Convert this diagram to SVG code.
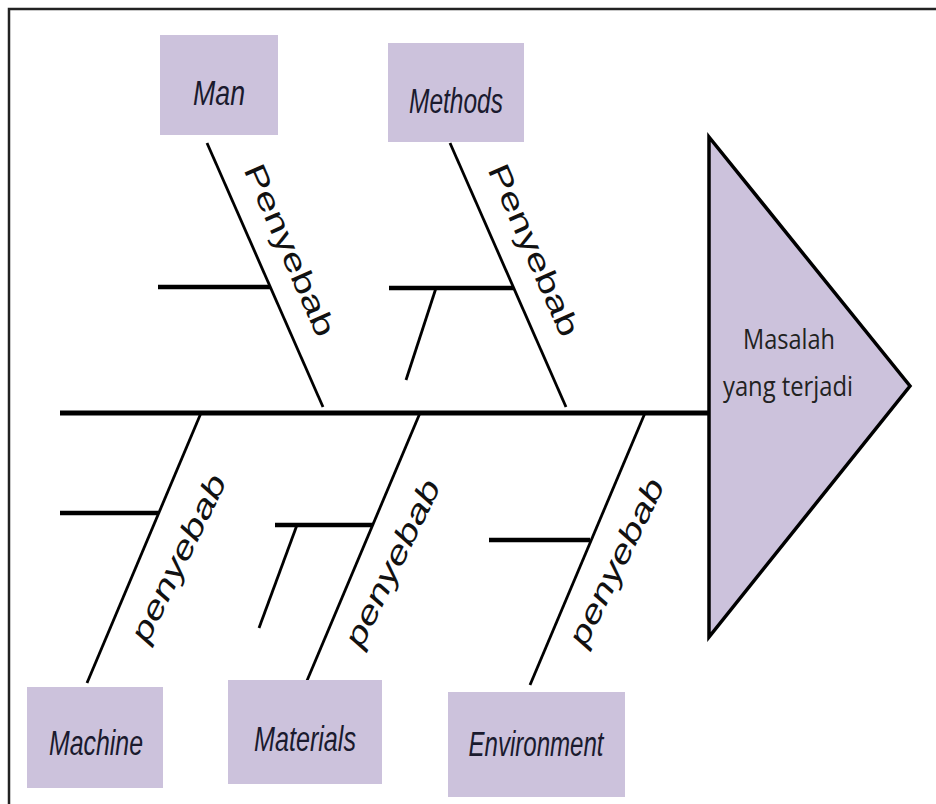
<svg xmlns="http://www.w3.org/2000/svg" width="936" height="804" viewBox="0 0 936 804">
<style>
.box{fill:#ccc2dc;}
.lbl{font-family:"Liberation Sans","Open Sans",sans-serif;font-style:italic;font-size:35px;fill:#1a1a2e;text-anchor:middle;}
.up{font-family:"Liberation Sans",Arial,sans-serif;font-size:30px;fill:#111;text-anchor:middle;dominant-baseline:central;}
.dn{font-family:"Liberation Sans",Arial,sans-serif;font-style:italic;font-size:30px;fill:#111;text-anchor:middle;dominant-baseline:central;}
.bone{stroke:#000;stroke-width:2.8;fill:none;}
.spine{stroke:#000;stroke-width:5;fill:none;}
.sub{stroke:#000;stroke-width:4.5;fill:none;}
.head{font-family:"Open Sans","Liberation Sans",sans-serif;font-size:28px;fill:#222;text-anchor:middle;}
</style>
<rect x="0" y="0" width="936" height="804" fill="#fff"/>
<path d="M9,804 V9 H936" stroke="#222" stroke-width="2.5" fill="none"/>
<g id="connectors">
<line class="spine" x1="60" y1="413" x2="709" y2="413"/>
<line class="bone" x1="207" y1="143" x2="323" y2="407"/>
<line class="sub" x1="158" y1="287" x2="270" y2="287"/>
<line class="bone" x1="450" y1="143" x2="566" y2="407"/>
<line class="sub" x1="389" y1="288" x2="514" y2="288"/>
<line class="bone" x1="436" y1="288" x2="406" y2="380"/>
<line class="bone" x1="201" y1="413" x2="87" y2="683"/>
<line class="sub" x1="60" y1="513" x2="158" y2="513"/>
<line class="bone" x1="420" y1="413" x2="306" y2="683"/>
<line class="sub" x1="275" y1="525" x2="373" y2="525"/>
<line class="bone" x1="297" y1="525" x2="259" y2="628"/>
<line class="bone" x1="645" y1="413" x2="530" y2="685"/>
<line class="sub" x1="489" y1="540" x2="590" y2="540"/>
<text class="up" transform="translate(290,250) rotate(66.3)" textLength="185" lengthAdjust="spacingAndGlyphs">Penyebab</text>
<text class="up" transform="translate(534,250) rotate(66.3)" textLength="185" lengthAdjust="spacingAndGlyphs">Penyebab</text>
<text class="dn" transform="translate(178,558) rotate(-64)" textLength="182" lengthAdjust="spacingAndGlyphs">penyebab</text>
<text class="dn" transform="translate(392,563) rotate(-64)" textLength="182" lengthAdjust="spacingAndGlyphs">penyebab</text>
<text class="dn" transform="translate(616,562) rotate(-64)" textLength="182" lengthAdjust="spacingAndGlyphs">penyebab</text>
</g>
<g id="man"><rect class="box" x="160" y="35" width="118" height="100"/><text class="lbl" x="219" y="105" textLength="52" lengthAdjust="spacingAndGlyphs">Man</text></g>
<g id="methods"><rect class="box" x="388" y="43" width="136" height="99"/><text class="lbl" x="456" y="113" textLength="94" lengthAdjust="spacingAndGlyphs">Methods</text></g>
<g id="machine"><rect class="box" x="27" y="687" width="136" height="101"/><text class="lbl" x="96" y="755" textLength="94" lengthAdjust="spacingAndGlyphs">Machine</text></g>
<g id="materials"><rect class="box" x="228" y="680" width="154" height="104"/><text class="lbl" x="305" y="751" textLength="102" lengthAdjust="spacingAndGlyphs">Materials</text></g>
<g id="environment"><rect class="box" x="448" y="692" width="177" height="105"/><text class="lbl" x="536" y="756" textLength="135" lengthAdjust="spacingAndGlyphs">Environment</text></g>
<g id="problem">
<polygon points="709,137 910,386 709,637" fill="#ccc2dc" stroke="#000" stroke-width="3.5" stroke-linejoin="miter"/>
<text class="head" x="789" y="349" textLength="92" lengthAdjust="spacingAndGlyphs">Masalah</text>
<text class="head" x="788" y="396" textLength="130" lengthAdjust="spacingAndGlyphs">yang terjadi</text>
</g>
</svg>
